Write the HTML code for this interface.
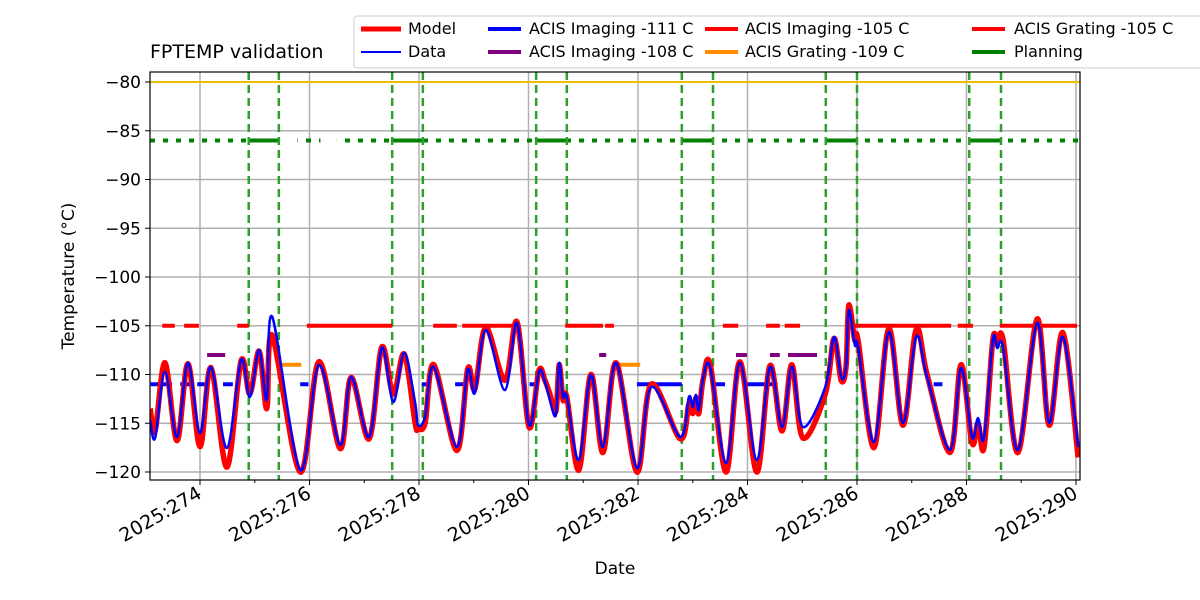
<!DOCTYPE html>
<html><head><meta charset="utf-8"><style>
body{margin:0;background:#fff;}
svg{display:block;font-family:"DejaVu Sans","Liberation Sans",sans-serif;}
</style></head><body>
<svg id="chart" width="1200" height="600" xmlns="http://www.w3.org/2000/svg">
<text x="150" y="58" font-size="19">FPTEMP validation</text>
<text x="615" y="574" font-size="17" text-anchor="middle">Date</text>
<text transform="translate(74,276) rotate(-90)" font-size="17" text-anchor="middle">Temperature (°C)</text>
<g id="grid"></g>
<g id="marks"></g>
<rect x="150" y="72" width="930" height="408" fill="none" stroke="#000" stroke-width="1.2"/>
<g id="axes"></g>
<g>
<rect x="354" y="16" width="860" height="52" fill="#fff" stroke="#ccc" rx="3"/>
<g font-size="16">
<line x1="361" y1="29" x2="401" y2="29" stroke="#f00" stroke-width="5"/>
<text x="408" y="34">Model</text>
<line x1="361" y1="52" x2="401" y2="52" stroke="#00f" stroke-width="2"/>
<text x="408" y="57">Data</text>
<line x1="488" y1="29" x2="521" y2="29" stroke="#00f" stroke-width="4"/>
<text x="529" y="34">ACIS Imaging -111 C</text>
<line x1="488" y1="52" x2="521" y2="52" stroke="#800080" stroke-width="4"/>
<text x="529" y="57">ACIS Imaging -108 C</text>
<line x1="705" y1="29" x2="738" y2="29" stroke="#f00" stroke-width="4"/>
<text x="745" y="34">ACIS Imaging -105 C</text>
<line x1="705" y1="52" x2="738" y2="52" stroke="#ff8c00" stroke-width="4"/>
<text x="745" y="57">ACIS Grating -109 C</text>
<line x1="972" y1="29" x2="1005" y2="29" stroke="#f00" stroke-width="4"/>
<text x="1014" y="34">ACIS Grating -105 C</text>
<line x1="972" y1="52" x2="1005" y2="52" stroke="#008000" stroke-width="4"/>
<text x="1014" y="57">Planning</text>
</g></g>
</svg>
<script>
const days=[273.09,273.18,273.36,273.58,273.78,274.0,274.2,274.49,274.75,274.91,275.08,275.22,275.32,275.83,276.17,276.56,276.76,277.09,277.32,277.53,277.73,277.93,277.98,278.11,278.27,278.69,278.89,279.02,279.22,279.57,279.79,280.01,280.19,280.3,280.39,280.5,280.56,280.63,280.7,280.92,281.14,281.36,281.6,281.98,282.24,282.77,282.93,283.0,283.06,283.11,283.19,283.32,283.61,283.86,284.17,284.41,284.63,284.81,285.01,285.42,285.58,285.71,285.8,285.85,285.96,286.02,286.31,286.58,286.84,287.08,287.28,287.7,287.9,288.1,288.21,288.32,288.48,288.56,288.67,288.94,289.29,289.51,289.76,290.04];
const dataTemps=[-114.67,-116.51,-109.74,-116.41,-108.82,-116.0,-109.23,-117.54,-108.51,-112.31,-107.49,-112.62,-104.1,-119.79,-109.03,-117.23,-110.26,-116.41,-107.28,-112.82,-107.79,-112.92,-115.18,-114.36,-109.23,-117.44,-109.54,-111.9,-105.44,-111.59,-104.72,-115.18,-109.74,-110.77,-112.62,-114.15,-108.82,-112.31,-112.31,-118.77,-110.05,-117.44,-108.82,-119.59,-111.28,-116.41,-112.31,-113.33,-112.1,-113.64,-110.36,-109.33,-119.08,-108.82,-118.77,-109.23,-115.38,-109.23,-115.38,-111.28,-106.15,-110.26,-109.23,-103.38,-106.97,-107.18,-116.92,-105.64,-114.97,-106.15,-110.26,-117.74,-109.33,-116.41,-114.46,-116.51,-106.46,-107.28,-107.28,-117.74,-104.72,-114.97,-106.15,-117.44];
const modelTemps=[-113.5,-115.8,-108.8,-116.8,-108.9,-117.4,-109.3,-119.5,-108.6,-112.0,-107.6,-113.5,-106.0,-120.0,-108.7,-117.6,-110.3,-116.6,-107.2,-112.0,-107.9,-115.0,-115.5,-115.0,-109.0,-117.8,-109.4,-111.5,-105.2,-110.6,-104.6,-115.4,-109.6,-110.6,-112.0,-113.8,-109.0,-112.6,-112.3,-119.8,-110.0,-118.0,-108.8,-120.0,-111.0,-116.6,-113.0,-114.0,-112.4,-114.0,-110.5,-109.0,-120.0,-108.7,-120.0,-109.1,-115.8,-109.0,-116.5,-112.0,-106.3,-110.6,-109.2,-102.9,-106.5,-106.5,-117.5,-105.3,-115.2,-105.4,-110.0,-118.0,-109.0,-117.0,-115.0,-117.5,-106.5,-106.8,-106.5,-118.0,-104.3,-115.2,-105.7,-118.5];
const imaging105=[[273.31,273.54],[273.71,273.98],[274.68,274.89],[275.95,277.51],[278.26,278.69],[278.79,279.75],[280.67,281.36],[281.4,281.56],[283.55,283.83],[284.34,284.59],[284.68,284.96],[285.96,287.72],[287.84,288.12],[288.61,290.02]];
const imaging111=[[273.1,273.24],[273.3,273.49],[273.64,273.82],[273.95,274.09],[274.42,274.6],[275.83,275.98],[278.05,278.16],[278.66,278.88],[280.02,280.15],[281.98,282.8],[283.37,283.59],[283.91,284.55],[287.4,287.56]];
const imaging108=[[274.13,274.46],[281.29,281.42],[283.79,283.99],[284.41,284.59],[284.74,285.27]];
const grating109=[[275.5,275.85],[281.65,282.04]];
const planningSolid=[[274.89,275.44],[277.51,278.07],[280.14,280.7],[282.8,283.37],[285.43,286.0],[288.05,288.63]];
const planningGaps=[[275.46,275.78],[276.2,276.5]];
const planningLevel=-86;
const limitLevel=-80;
const switchDays=[274.89,275.44,277.51,278.07,280.14,280.7,282.8,283.37,285.43,286.0,288.05,288.63];
const xTicks=[274,276,278,280,282,284,286,288,290];
const yTicks=[-80,-85,-90,-95,-100,-105,-110,-115,-120];

const X0=150,X1=1080,Y0=72,Y1=480;
const sx=d=>200+(d-274)*54.75;
const sy=t=>82+(-80-t)*9.75;
const NS="http://www.w3.org/2000/svg";
function mk(tag,attrs,parent){const e=document.createElementNS(NS,tag);for(const k in attrs)e.setAttribute(k,attrs[k]);parent.appendChild(e);return e;}
const grid=document.getElementById('grid'),marks=document.getElementById('marks'),axes=document.getElementById('axes');
xTicks.forEach(d=>{const l=mk('line',{x1:sx(d),x2:sx(d),y1:Y0,y2:Y1,stroke:'#b0b0b0','stroke-width':1.5},grid);

const t=mk('line',{x1:sx(d),x2:sx(d),y1:Y1,y2:Y1+5,stroke:'#000'},axes);

const tx=mk('text',{transform:`translate(${sx(d)+3},${Y1+17}) rotate(-30)`,'text-anchor':'end','font-size':19},axes);
tx.textContent='2025:'+d;
});
[275,277,279,281,283,285,287,289].forEach(d=>{const t=mk('line',{x1:sx(d),x2:sx(d),y1:Y1,y2:Y1+3,stroke:'#000'},axes);
});
yTicks.forEach(v=>{const l=mk('line',{x1:X0,x2:X1,y1:sy(v),y2:sy(v),stroke:'#b0b0b0','stroke-width':1.5},grid);

const t=mk('line',{x1:X0-5,x2:X0,y1:sy(v),y2:sy(v),stroke:'#000'},axes);

const tx=mk('text',{x:X0-9,y:sy(v)+6,'text-anchor':'end','font-size':17},axes);
tx.textContent=String(v).replace('-','\u2212');
});
const clip=mk('clipPath',{id:'pc'},marks);mk('rect',{x:X0,y:Y0,width:X1-X0,height:Y1-Y0},clip);
const g=mk('g',{'clip-path':'url(#pc)'},marks);
function seg(arr,level,color,w,name){arr.forEach(s=>{const l=mk('line',{x1:sx(s[0]),x2:sx(s[1]),y1:sy(level),y2:sy(level),stroke:color,'stroke-width':w},g);
});}
const lim=mk('line',{x1:X0,x2:X1,y1:sy(limitLevel),y2:sy(limitLevel),stroke:'#e8c000','stroke-width':2},g);

const pl=mk('line',{x1:X0,x2:X1,y1:sy(planningLevel),y2:sy(planningLevel),stroke:'#008000','stroke-width':4,'stroke-dasharray':'5,8'},g);

planningGaps.forEach(s=>{const r=mk('rect',{x:sx(s[0]),y:sy(planningLevel)-3,width:sx(s[1])-sx(s[0]),height:6,fill:'#fff'},g);
});
seg(planningSolid,planningLevel,'#008000',4,'planning-segment');
switchDays.forEach(d=>{const l=mk('line',{x1:sx(d),x2:sx(d),y1:Y0,y2:Y1,stroke:'#2ca02c','stroke-width':2.5,'stroke-dasharray':'8,5'},g);
});
seg(imaging105,-105,'#f00',4,'imaging-105-segment');
seg(imaging111,-111,'#00f',4,'imaging-111-segment');
seg(imaging108,-108,'#800080',4,'imaging-108-segment');
seg(grating109,-109,'#ff8c00',4,'grating-109-segment');
function path(ts){const p=days.map((d,i)=>[sx(d),sy(ts[i])]);let s=`M${p[0][0]},${p[0][1]}`;
for(let i=0;i<p.length-1;i++){const a=p[i-1]||p[i],b=p[i],c=p[i+1],e=p[i+2]||c;
s+=` C${b[0]+(c[0]-a[0])/6},${b[1]+(c[1]-a[1])/6} ${c[0]-(e[0]-b[0])/6},${c[1]-(e[1]-b[1])/6} ${c[0]},${c[1]}`;}return s;}
const m=mk('path',{d:path(modelTemps),fill:'none',stroke:'#f00','stroke-width':5.5,'stroke-linejoin':'round'},g);

const dl=mk('path',{d:path(dataTemps),fill:'none',stroke:'#00f','stroke-width':2.5,'stroke-linejoin':'round'},g);

</script>
</body></html>
